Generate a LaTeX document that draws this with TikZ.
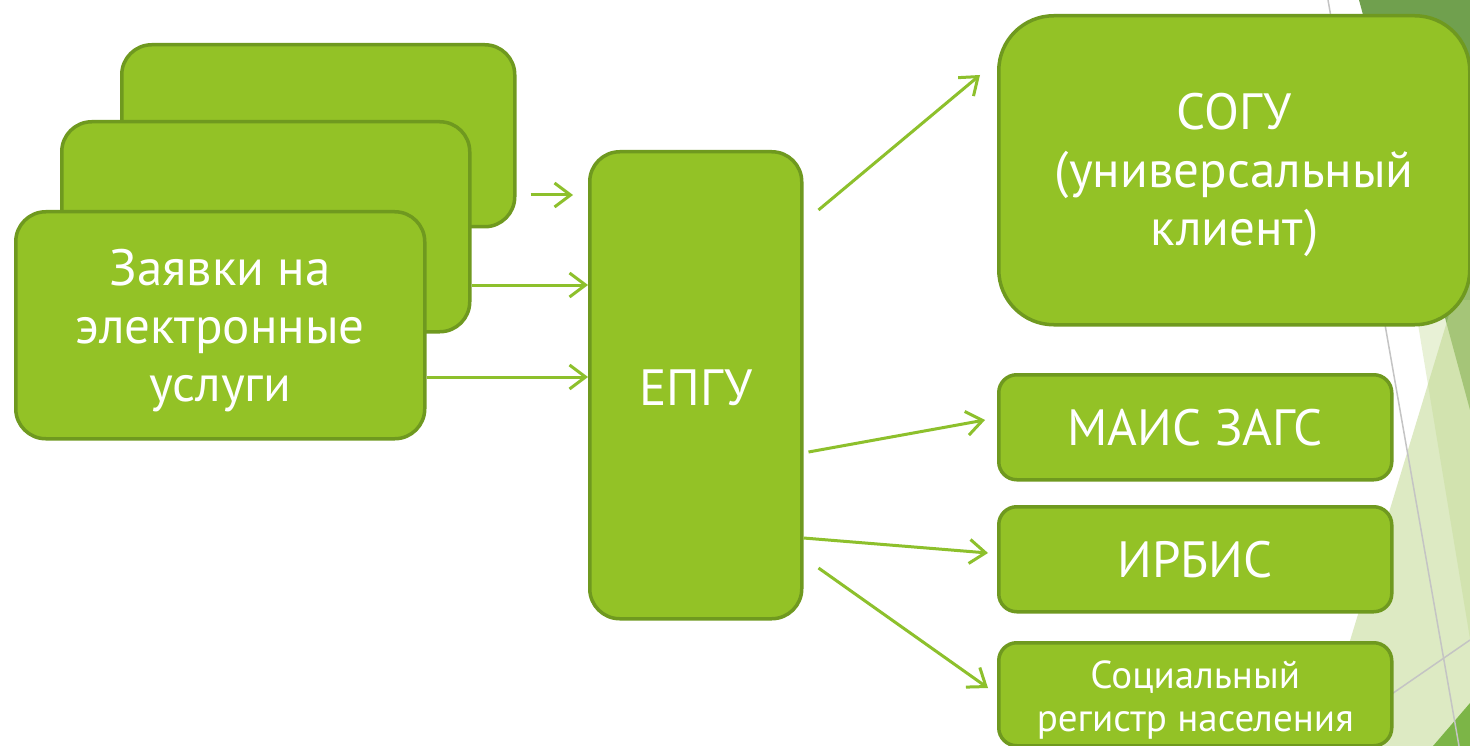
\documentclass[tikz,border=0pt]{standalone}
\usepackage{fontspec}
\setmainfont{PT Sans}
\usetikzlibrary{arrows.meta,calc}
\definecolor{boxfill}{HTML}{93C226}
\definecolor{boxline}{HTML}{6F991F}
\definecolor{arr}{HTML}{8DC02C}
\definecolor{darkg}{HTML}{70A04E}
\definecolor{midg}{HTML}{7CB547}
\definecolor{paleg}{HTML}{BED78C}
\definecolor{greyline}{HTML}{C4C4C4}
\newcommand{\topstrut}[1]{\rule{0pt}{#1}}
\begin{document}
\begin{tikzpicture}[x=1pt,y=-1pt,
  box/.style={draw=boxline, fill=boxfill, line width=3.5pt, text=white, align=center,
    inner sep=0pt, anchor=north west},
  bigtext/.style={font=\fontsize{51}{58}\selectfont},
  smalltext/.style={font=\fontsize{39}{43}\selectfont},
  conn/.style={draw=arr, line width=3pt, -{Straight Barb[length=16pt,width=24pt,line width=3pt]}}]
\useasboundingbox (0,0) rectangle (1470,746);
\fill[white] (0,0) rectangle (1470,746);
% background decoration
\begin{scope}
\clip (0,0) rectangle (1470,746);
\fill[darkg] (1359,0) -- (1470,0) -- (1470,410) -- cycle;
\fill[paleg, opacity=0.52] (1490,180) -- (1318,746) -- (1490,746) -- cycle;
\fill[paleg, opacity=0.35] (1414,300) -- (1490,760) -- (1500,300) -- cycle;
\fill[midg] (1433,746) -- (1470,703) -- (1470,746) -- cycle;
\draw[draw=greyline, line width=1.5pt] (1328,0) -- (1459,746);
\draw[draw=greyline, line width=1.5pt] (1370,709) -- (1470,640);
\end{scope}
% left stacked boxes
\node[box, rounded corners=30pt, minimum width=393pt, minimum height=182pt] (back3) at (120,43) {};
\node[box, rounded corners=30pt, minimum width=408pt, minimum height=210pt] (back2) at (60,120) {};
\node[box, rounded corners=30pt, minimum width=409pt, minimum height=227pt, bigtext] (req) at (14,210) {\topstrut{46pt}Заявки на\\электронные\\услуги};
% center
\node[box, rounded corners=30pt, minimum width=212pt, minimum height=467pt, bigtext] (epgu) at (588,150) {\topstrut{40pt}ЕПГУ};
% right
\node[box, rounded corners=55pt, minimum width=471pt, minimum height=309pt, bigtext] (sogu) at (997,14) {\topstrut{46pt}СОГУ\\(универсальный\\клиент)};
\node[box, rounded corners=18pt, minimum width=393pt, minimum height=105pt, bigtext] (mais) at (997,373) {МАИС ЗАГС};
\node[box, rounded corners=18pt, minimum width=393pt, minimum height=105pt, bigtext] (irbis) at (997,505) {ИРБИС};
\node[box, rounded corners=18pt, minimum width=393pt, minimum height=103pt, smalltext] (soc) at (997,641) {\topstrut{40pt}Социальный\\регистр населения};
% arrows in
\coordinate (a1s) at ($(back3.east |- 0,195)+(14,0)$);
\coordinate (a1e) at ($(epgu.west |- 0,195)+(-15,0)$);
\draw[conn] (a1s) -- (a1e);
\draw[conn] (back2.east |- 0,285) -- (epgu.west |- 0,285);
\draw[conn] (req.east |- 0,377) -- (epgu.west |- 0,377);
% arrows out
\draw[conn] ($(epgu.east |- 0,210)+(15,0)$) -- ($(sogu.west |- 0,75)+(-17,0)$);
\draw[conn] ($(epgu.east |- 0,452)+(5,0)$) -- ($(mais.west |- 0,420)+(-12,0)$);
\draw[conn] (epgu.east |- 0,538) -- ($(irbis.west |- 0,553)+(-9,0)$);
\draw[conn] ($(epgu.east |- 0,568)+(15,0)$) -- ($(soc.west |- 0,688)+(-9,0)$);
\end{tikzpicture}
\end{document}
